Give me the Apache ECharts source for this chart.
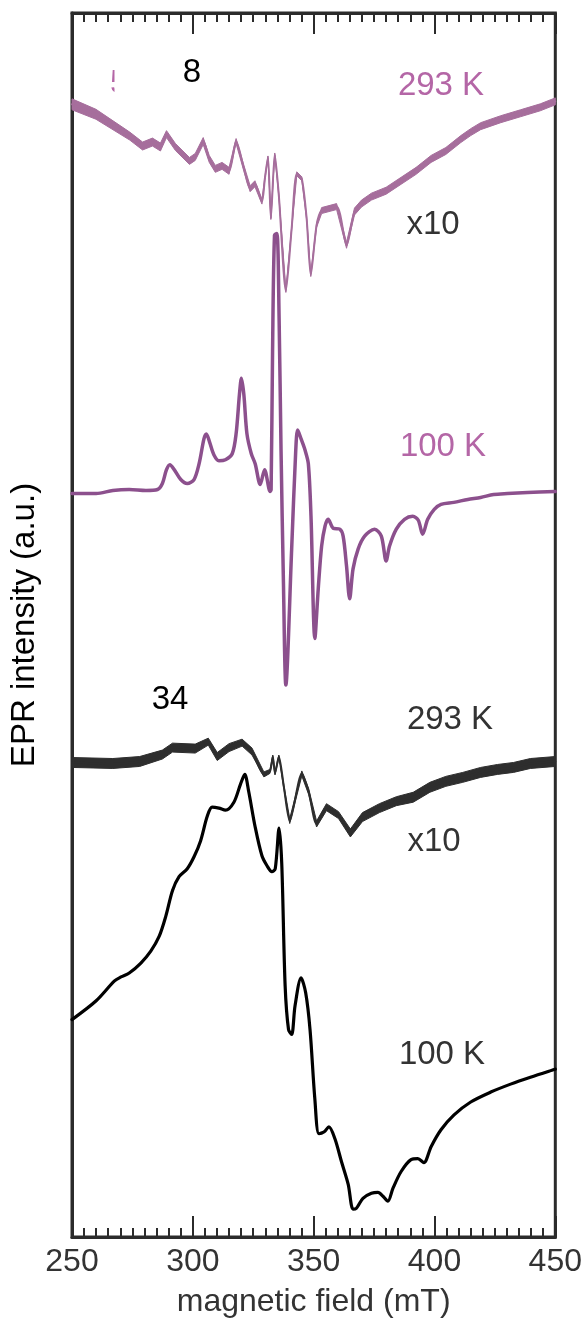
<!DOCTYPE html>
<html>
<head>
<meta charset="utf-8">
<script src="https://cdn.jsdelivr.net/npm/echarts@6/dist/echarts.min.js"></script>
<style>
  html, body { margin: 0; padding: 0; background: #fff; }
  #chart { width: 585px; height: 1323px; }
</style>
</head>
<body>
<div id="chart"></div>
<script>
// X-band EPR spectra, first-derivative signal (a.u.) vs magnetic field (mT).
// Each trace is stored relative to its own baseline and stacked with an offset.

// Sample 8, 293 K (x10), noisy trace
const fieldA293 = [250, 259.9, 273.9, 279.2, 283.3, 286.6, 289.1, 292.8, 298.6, 301.0,
  304.3, 306.8, 309.3, 312.1, 315.0, 317.9, 321.2, 323.7, 325.7, 328.6,
  329.8, 331.1, 332.3, 333.9, 335.6, 338.5, 340.9, 343.0, 345.1, 347.1,
  348.8, 351.2, 353.3, 359.5, 363.6, 366.9, 369.8, 373.9, 380.0, 386.2,
  392.4, 398.6, 404.7, 410.9, 415.0, 419.1, 427.4, 435.6, 443.8, 450];
const signalA293 = [0, -10, -32, -42, -38, -43, -30, -43, -57, -53,
  -37, -55, -65, -62, -67, -37, -65, -85, -80, -98,
  -75, -53, -115, -50, -92, -188, -125, -70, -75, -115,
  -172, -122, -107, -103, -142, -108, -100, -93, -87, -77,
  -67, -55, -47, -35, -28, -22, -15, -9, -3, 3];
const noiseA293 = [11, 10, 8, 8, 8, 8, 7, 7, 7, 7,
  7, 7, 7, 7, 7, 5, 6, 6, 6, 5,
  3, 2, 2, 2, 3, 3, 3, 4, 4, 3,
  3, 4, 6, 6, 6, 7, 7, 7, 7, 7,
  7, 7, 7, 7, 7, 7, 7, 7, 7, 7];

// Sample 8, 100 K
const fieldA100 = [250, 260.0, 266.9, 273.7, 280.6, 285.4, 287.4, 289.1, 290.5, 292.3,
  295.0, 297.7, 300.5, 302.6, 304.6, 305.6, 306.9, 308.7, 310.8, 313.5,
  316.3, 317.9, 319.3, 320.1, 321.1, 322.4, 324.2, 325.8, 327.9, 329.7,
  332.0, 332.4, 333.0, 333.8, 334.8, 335.7, 336.5, 337.5, 338.5, 340.9,
  342.6, 343.4, 344.8, 346.4, 347.8, 348.9, 350.5, 351.9, 353.3, 354.7,
  356.0, 358.1, 360.8, 362.2, 363.6, 364.9, 366.3, 368.4, 371.1, 375.2,
  378.0, 380.0, 381.4, 384.2, 387.6, 391.0, 393.3, 395.1, 397.2, 399.9,
  402.7, 408.0, 413.8, 419.1, 424.5, 430.2, 438.5, 450];
const signalA100 = [-2, -2, 1, 2, 1, 2, 8, 22, 27, 22,
  12, 8, 12, 28, 53, 58, 50, 37, 31, 32,
  38, 58, 98, 114, 98, 58, 38, 28, 7, 22,
  0, 2, 142, 258, 260, 175, 42, -92, -195, -58,
  42, 62, 53, 42, 28, -25, -148, -98, -55, -35,
  -28, -37, -38, -45, -75, -108, -78, -58, -45, -38,
  -45, -70, -55, -38, -28, -25, -29, -43, -28, -18,
  -13, -11, -8, -6, -3, -2, -1, 0];

// Sample 34, 293 K (x10), noisy trace
const fieldB293 = [250, 266.9, 278.0, 287.4, 291.6, 301.0, 306.4, 310.1, 315.0, 320.4,
  324.5, 329.4, 331.9, 333.1, 334.0, 335.6, 337.7, 340.1, 345.1, 347.9,
  351.2, 355.3, 360.3, 365.2, 370.2, 377.2, 384.2, 391.2, 398.1, 404.7,
  411.7, 419.1, 426.1, 432.7, 439.7, 450];
const signalB293 = [0, -1, 1, 8, 15, 14, 21, 6, 15, 20,
  11, -12, -9, 6, -11, 6, -25, -59, -11, -29,
  -62, -45, -53, -71, -55, -46, -39, -35, -25, -19,
  -15, -10, -7, -5, -1, 1];
const noiseB293 = [10, 10, 10, 9, 9, 9, 7, 8, 8, 7,
  7, 5, 4, 3, 3, 3, 4, 5, 5, 6,
  6, 7, 7, 8, 9, 9, 9, 10, 10, 10,
  10, 10, 10, 10, 10, 10];

// Sample 34, 100 K
const fieldB100 = [250, 260.0, 267.6, 270.3, 273.7, 278.5, 282.6, 286.1, 288.8, 291.6,
  294.3, 297.7, 300.5, 303.2, 306.0, 308.0, 310.8, 313.5, 317.0, 319.7,
  321.5, 323.1, 325.8, 328.6, 330.7, 332.7, 334.1, 335.7, 336.8, 338.2,
  339.6, 340.9, 342.3, 344.8, 346.7, 348.5, 350.5, 352.2, 354.4, 356.3,
  358.8, 361.5, 364.3, 366.3, 367.7, 370.4, 373.9, 376.6, 378.7, 380.7,
  382.8, 386.2, 390.3, 393.1, 395.6, 398.6, 402.7, 408.1, 415.0, 423.3,
  431.5, 439.7, 448.6, 450];
const signalB100 = [0, 19, 39, 43, 47, 57, 69, 84, 104, 130,
  144, 152, 164, 180, 205, 214, 213, 211, 219, 237,
  247, 230, 194, 165, 155, 149, 152, 193, 157, 34,
  -10, -15, 14, 42, 27, -10, -80, -115, -113, -108,
  -120, -143, -166, -191, -190, -180, -175, -174, -178, -183,
  -170, -153, -141, -140, -144, -128, -111, -96, -83, -73,
  -65, -58, -51, -50];

// Vertical stacking offsets of the four traces (a.u.)
const offsets = { A293: 1141, A100: 751, B293: 478, B100: 219 };

const fieldTicks = { min: 250, max: 450, step: 50 };
const intensityRange = { min: 0, max: 1233 };

const FONT = 'Liberation Sans, Arial, Helvetica, sans-serif';
const AXIS_COLOR = '#2b2b2b';

function pairs(field, signal, offset) {
  return field.map((b, i) => [b, offset + signal[i]]);
}

// Noise envelope drawn as a filled polygon between upper and lower bounds
function bandSeries(field, signal, noise, offset, color) {
  return {
    type: 'custom',
    silent: true,
    z: 2,
    data: [[field[0], offset + signal[0]]],
    renderItem: function (params, api) {
      const upper = [], lower = [];
      for (let i = 0; i < field.length; i++) {
        upper.push(api.coord([field[i], offset + signal[i] + noise[i] / 2]));
        lower.push(api.coord([field[i], offset + signal[i] - noise[i] / 2]));
      }
      return {
        type: 'polygon',
        shape: { points: upper.concat(lower.reverse()) },
        style: { fill: color, stroke: color, lineWidth: 1, lineJoin: 'round' }
      };
    }
  };
}

function lineSeries(field, signal, offset, color, width, smooth) {
  return {
    type: 'line',
    data: pairs(field, signal, offset),
    showSymbol: false,
    symbol: 'none',
    smooth: smooth,
    silent: true,
    z: 3,
    lineStyle: { color: color, width: width, join: 'round', cap: 'round' }
  };
}

function fieldAxis(position, showLabels) {
  return {
    type: 'value',
    position: position,
    min: fieldTicks.min,
    max: fieldTicks.max,
    interval: fieldTicks.step,
    name: showLabels ? 'magnetic field (mT)' : '',
    nameLocation: 'middle',
    nameGap: 49,
    nameTextStyle: { fontFamily: FONT, fontSize: 32, color: '#333' },
    axisLine: { show: true, lineStyle: { color: AXIS_COLOR, width: 3 } },
    axisTick: { show: true, inside: true, length: 21, lineStyle: { color: AXIS_COLOR, width: 2 } },
    minorTick: { show: true, splitNumber: 10, length: 9, lineStyle: { color: AXIS_COLOR, width: 2 } },
    axisLabel: { show: showLabels, fontFamily: FONT, fontSize: 32, color: '#333', margin: 9 },
    splitLine: { show: false },
    minorSplitLine: { show: false }
  };
}

const purpleText = '#b466a6';
const darkText = '#333333';

function label(text, x, y, color) {
  return {
    type: 'text',
    z: 50,
    style: { text: text, x: x, y: y, fill: color, font: '33px ' + FONT, align: 'center', verticalAlign: 'middle' }
  };
}

const chart = echarts.init(document.getElementById('chart'), null, { renderer: 'canvas' });
chart.setOption({
  animation: false,
  backgroundColor: '#fff',
  grid: { left: 69, right: 29, top: 13, bottom: 77, show: true, borderColor: AXIS_COLOR, borderWidth: 3, backgroundColor: 'transparent' },
  xAxis: [fieldAxis('bottom', true), fieldAxis('top', false)],
  yAxis: {
    type: 'value',
    min: intensityRange.min,
    max: intensityRange.max,
    name: 'EPR intensity (a.u.)',
    nameLocation: 'middle',
    nameGap: 31,
    nameTextStyle: { fontFamily: FONT, fontSize: 33, color: '#000' },
    axisLine: { show: true, lineStyle: { color: AXIS_COLOR, width: 3 } },
    axisTick: { show: false },
    axisLabel: { show: false },
    splitLine: { show: false }
  },
  series: [
    bandSeries(fieldA293, signalA293, noiseA293, offsets.A293, '#a66e9c'),
    lineSeries(fieldA293, signalA293, offsets.A293, '#a66e9c', 2, 0.25),
    lineSeries(fieldA100, signalA100, offsets.A100, '#8c508d', 3.5, 0.3),
    bandSeries(fieldB293, signalB293, noiseB293, offsets.B293, '#2e2e2e'),
    lineSeries(fieldB293, signalB293, offsets.B293, '#2e2e2e', 2, 0.25),
    lineSeries(fieldB100, signalB100, offsets.B100, '#000000', 3.2, 0.3)
  ],
  graphic: [
    label('293 K', 441, 86, purpleText),
    label('x10', 433, 225, darkText),
    label('100 K', 443, 447, purpleText),
    label('293 K', 450, 720, darkText),
    label('x10', 434, 842, darkText),
    label('100 K', 442, 1055, darkText),
    label('8', 192, 73, '#000'),
    label('34', 170, 700, '#000'),
    { type: 'text', z: 48, style: { text: '5', x: 110, y: 84, fill: purpleText, font: '33px ' + FONT, align: 'left', verticalAlign: 'middle' } },
    { type: 'rect', z: 49, shape: { x: 114.5, y: 62, width: 28, height: 40 }, style: { fill: '#fff' } }
  ]
});
</script>
</body>
</html>
